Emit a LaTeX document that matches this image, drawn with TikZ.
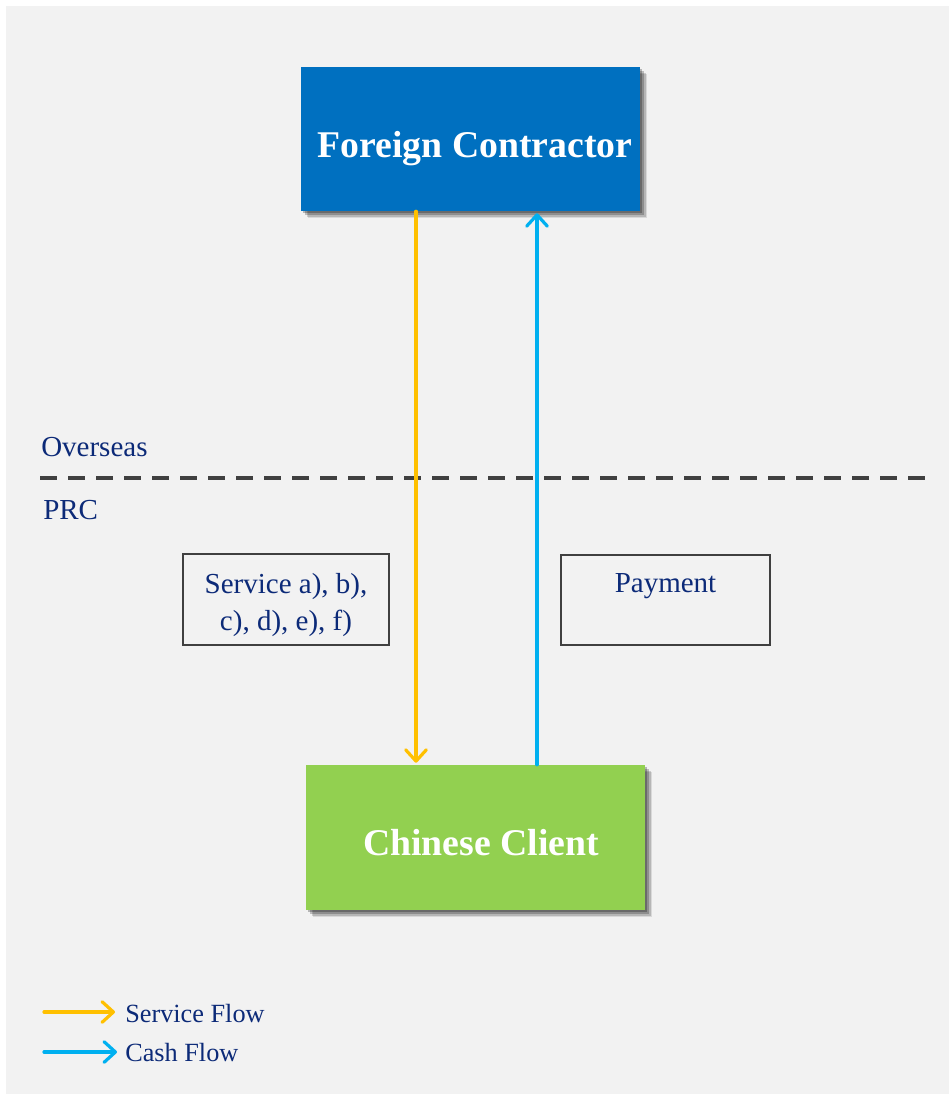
\documentclass[tikz,border=0pt]{standalone}
\usepackage{fontspec}
\setmainfont{Liberation Serif}
\usetikzlibrary{arrows.meta,calc,shadows}
\definecolor{bgc}{HTML}{F2F2F2}
\definecolor{fcblue}{HTML}{0070C0}
\definecolor{ccgreen}{HTML}{92D050}
\definecolor{svcyellow}{HTML}{FFC000}
\definecolor{cashblue}{HTML}{00B0F0}
\definecolor{navy}{RGB}{12,42,120}
\definecolor{edgegray}{HTML}{404040}
\tikzset{
  party/.style={draw=none, minimum width=254.25pt, inner sep=0pt,
    drop shadow={shadow xshift=5.5pt, shadow yshift=-5.5pt, opacity=.10, fill=black},
    drop shadow={shadow xshift=4.2pt, shadow yshift=-4.2pt, opacity=.16, fill=black},
    drop shadow={shadow xshift=3pt, shadow yshift=-3pt, opacity=.22, fill=black},
    drop shadow={shadow xshift=1.8pt, shadow yshift=-1.8pt, opacity=.25, fill=black}},
  title/.style={text=white, font=\fontsize{28.3}{34}\selectfont\bfseries, inner sep=0pt},
  notebox/.style={draw=edgegray, line width=1.4pt, fill=none, inner sep=0pt},
  notetext/.style={align=center, inner sep=0pt, text=navy, font=\fontsize{21.75}{27.75}\selectfont},
  lbl/.style={text=navy, inner sep=0pt, font=\fontsize{21.75}{26}\selectfont},
  leg/.style={text=navy, inner sep=0pt, font=\fontsize{19.7}{24}\selectfont},
  sflow/.style={draw=svcyellow, line width=2.4pt, line cap=round, line join=round,
    -{Straight Barb[length=8.5pt, width=15.5pt, line cap=round, line join=round]}},
  cflow/.style={draw=cashblue, line width=2.4pt, line cap=round, line join=round,
    -{Straight Barb[length=8.5pt, width=15.5pt, line cap=round, line join=round]}},
  divider/.style={draw=edgegray, line width=2.6pt, dash pattern=on 12.75pt off 8.25pt},
}
\begin{document}
\begin{tikzpicture}[x=0.75pt, y=-0.75pt]
\useasboundingbox (0,0) rectangle (949,1094);
\fill[bgc] (6,6) rectangle (949,1094);

% parties
\node[party, fill=fcblue, minimum height=108pt] (FC) at (470.5,139) {};
\node[title, anchor=base] (FCt) at (475,157.5) {Foreign Contractor};
\node[party, fill=ccgreen, minimum height=108.75pt] (CC) at (475.5,837.5) {};
\node[title, anchor=base] (CCt) at (481,855) {Chinese Client};

% border line
\coordinate (dl) at (40,478);
\coordinate (dr) at (925,478);
\draw[divider] (dl) -- (dr);
\node[lbl, anchor=base west] (ov) at (41,456) {Overseas};
\node[lbl, anchor=base west] (prc) at (43,519) {PRC};

% note boxes
\node[notebox, minimum width=154.5pt, minimum height=68.25pt,
  label={[notetext, yshift=-4.5pt]center:{Service a), b),\\ c), d), e), f)}}] (svc) at (286,599.5) {};
\node[notebox, minimum width=156.75pt, minimum height=67.5pt,
  label={[notetext, anchor=base, yshift=-28.5pt]north:{Payment}}] (pay) at (665.5,600) {};

% flows
\coordinate (yx) at (416,0);
\coordinate (bx) at (537,0);
\draw[sflow] (FC.south -| yx) -- ($(CC.north -| yx)+(0,-2)$);
\draw[cflow] (CC.north -| bx) -- ($(FC.south -| bx)+(0,2)$);

% legend
\node[leg, anchor=base west] (lsf) at (125,1022) {Service Flow};
\node[leg, anchor=base west] (lcf) at (125,1061) {Cash Flow};
\coordinate (ls) at (44,1012);
\coordinate (lc) at (44,1052);
\draw[sflow] (ls) -- ($(ls -| lsf.west)+(-10,0)$);
\draw[cflow] (lc) -- ($(lc -| lcf.west)+(-8,0)$);
\end{tikzpicture}
\end{document}
